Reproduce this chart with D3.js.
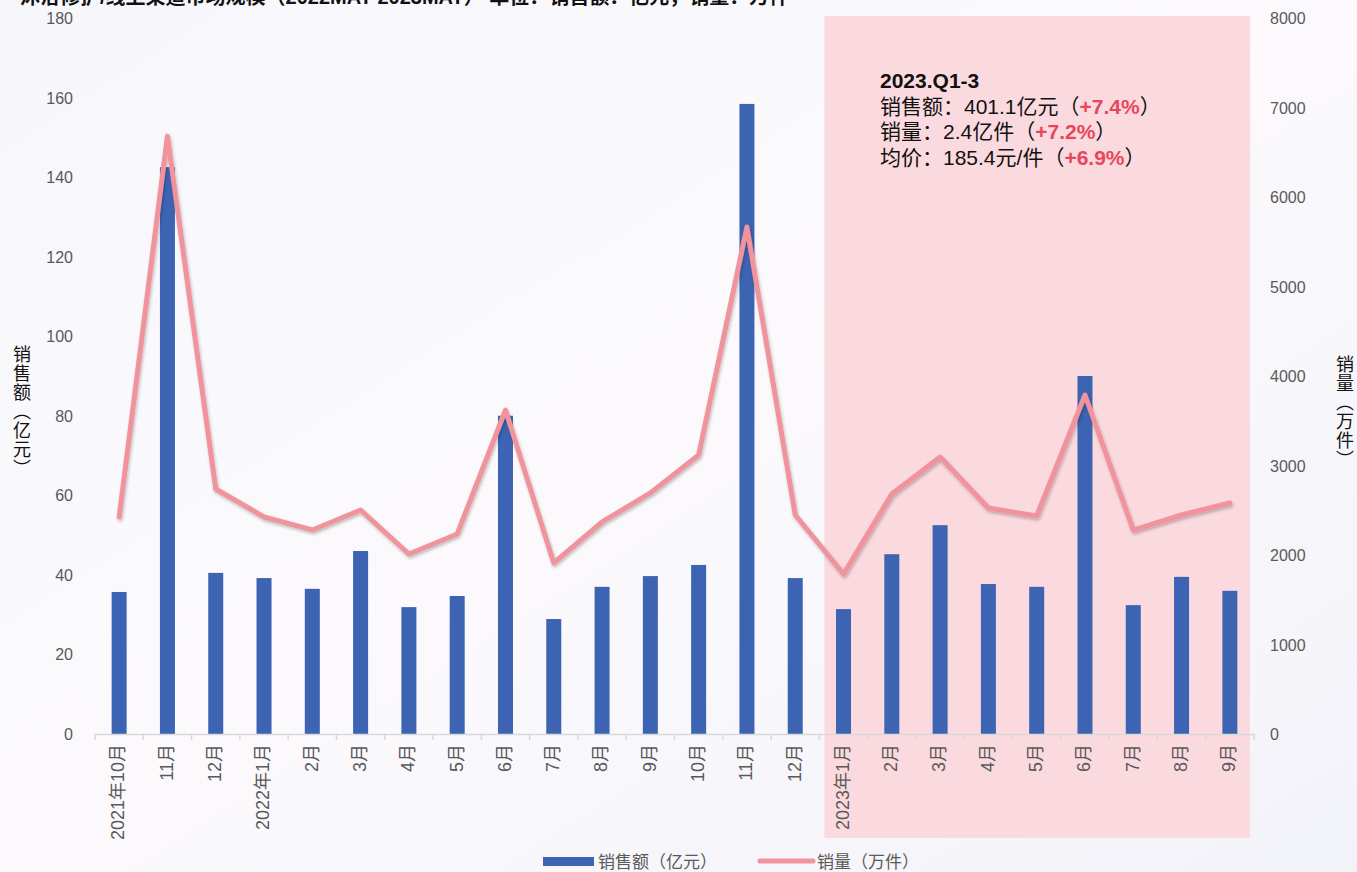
<!DOCTYPE html>
<html>
<head>
<meta charset="utf-8">
<script src="https://cdn.jsdelivr.net/npm/d3@7"></script>
<style>
  body { margin: 0; background: #f6f6fa; }
  svg { display: block; font-family: "Liberation Sans", Arial, "Noto Sans CJK SC", sans-serif; }
</style>
</head>
<body>
<script>
var months = ['2021年10月', '11月', '12月', '2022年1月', '2月', '3月', '4月', '5月', '6月', '7月', '8月', '9月',
    '10月', '11月', '12月', '2023年1月', '2月', '3月', '4月', '5月', '6月', '7月', '8月', '9月']
var sales = [35.7, 142.5, 40.5, 39.2, 36.5, 46, 31.9, 34.7, 80, 28.9, 37, 39.7,
    42.5, 158.4, 39.2, 31.4, 45.2, 52.5, 37.7, 37, 90, 32.4, 39.5, 36]
var volume = [2425, 6680, 2737, 2425, 2280, 2503, 2011, 2235, 3620, 1911, 2369, 2693,
    3117, 5665, 2447, 1788, 2682, 3095, 2525, 2436, 3788, 2279, 2447, 2581]
var leftTicks = [0, 20, 40, 60, 80, 100, 120, 140, 160, 180]
var rightTicks = [0, 1000, 2000, 3000, 4000, 5000, 6000, 7000, 8000]
var noteLines = [
    [['2023.Q1-3', true, false]],
    [['销售额：401.1亿元（', false, false], ['+7.4%', true, true], ['）', false, false]],
    [['销量：2.4亿件（', false, false], ['+7.2%', true, true], ['）', false, false]],
    [['均价：185.4元/件（', false, false], ['+6.9%', true, true], ['）', false, false]]
]

var width = 1357, height = 872
var plotLeft = 95, plotRight = 1254, plotTop = 18, plotBottom = 734

var svg = d3.select('body').append('svg')
    .attr('width', width)
    .attr('height', height)

var defs = svg.append('defs')
var bg = defs.append('linearGradient').attr('id', 'bg')
    .attr('x1', 0).attr('y1', 0).attr('x2', 1).attr('y2', 1)
bg.append('stop').attr('offset', 0).attr('stop-color', '#f7f7fb')
bg.append('stop').attr('offset', 0.5).attr('stop-color', '#fbf9fc')
bg.append('stop').attr('offset', 1).attr('stop-color', '#f2f3f9')
var shadow = defs.append('filter').attr('id', 'shadow')
    .attr('x', '-10%').attr('y', '-10%').attr('width', '120%').attr('height', '120%')
shadow.append('feDropShadow').attr('dx', 1).attr('dy', 2).attr('stdDeviation', 1.5)
    .attr('flood-color', '#000').attr('flood-opacity', 0.25)

svg.append('rect').attr('width', width).attr('height', height).attr('fill', 'url(#bg)')

var x = d3.scaleBand()
    .domain(d3.range(months.length))
    .range([plotLeft, plotRight])

var yL = d3.scaleLinear().domain([0, 180]).range([plotBottom, plotTop])
var yR = d3.scaleLinear().domain([0, 8000]).range([plotBottom, plotTop])

// highlighted 2023 block
svg.append('rect')
    .attr('x', x(15) + 5)
    .attr('y', 16)
    .attr('width', plotRight - 4 - (x(15) + 5))
    .attr('height', 838 - 16)
    .attr('fill', '#fadadf')

// title (cut off at top edge)
svg.append('text')
    .attr('x', 20)
    .attr('y', 4)
    .style('font-size', '20px')
    .style('font-weight', 'bold')
    .style('fill', '#111')
    .text('沐浴修护/线上渠道市场规模（2022MAT-2023MAT）  单位：销售额：亿元，销量：万件')

// left axis labels
svg.append('g').selectAll('text')
    .data(leftTicks)
    .enter().append('text')
    .attr('x', 73)
    .attr('y', function(d) { return yL(d) + 6 })
    .attr('text-anchor', 'end')
    .style('font-size', '16px')
    .style('fill', '#595959')
    .text(function(d) { return d })

// right axis labels
svg.append('g').selectAll('text')
    .data(rightTicks)
    .enter().append('text')
    .attr('x', 1270)
    .attr('y', function(d) { return yR(d) + 6 })
    .style('font-size', '16px')
    .style('fill', '#595959')
    .text(function(d) { return d })

// axis titles
svg.append('text')
    .attr('x', 22)
    .attr('y', 345)
    .style('writing-mode', 'vertical-rl')
    .style('font-size', '18px')
    .style('letter-spacing', '1px')
    .style('fill', '#111')
    .style('font-family', '"Noto Sans CJK SC", sans-serif')
    .text('销售额（亿元）')

svg.append('text')
    .attr('x', 1345)
    .attr('y', 355)
    .style('writing-mode', 'vertical-rl')
    .style('font-size', '18px')
    .style('letter-spacing', '1px')
    .style('fill', '#111')
    .style('font-family', '"Noto Sans CJK SC", sans-serif')
    .text('销量（万件）')

// bars
svg.append('g').selectAll('rect')
    .data(sales)
    .enter().append('rect')
    .attr('x', function(d, i) { return x(i) + x.bandwidth() / 2 - 7.5 })
    .attr('y', function(d) { return yL(d) })
    .attr('width', 15)
    .attr('height', function(d) { return plotBottom - yL(d) })
    .attr('fill', '#3d63b3')

// x axis
var xAxis = svg.append('g')
    .attr('transform', 'translate(0,' + plotBottom + ')')
    .call(d3.axisBottom(x).tickSize(0).tickFormat(function(i) { return months[i] }))
xAxis.select('.domain').attr('stroke', '#d9d9d9').attr('stroke-width', 1.5)
xAxis.selectAll('.tick line').remove()
xAxis.selectAll('.tick text')
    .attr('transform', 'rotate(-90)')
    .attr('x', -10)
    .attr('y', -1)
    .attr('dy', '0.35em')
    .attr('text-anchor', 'end')
    .style('font-size', '18px')
    .style('fill', '#595959')
    .style('font-family', '"Liberation Sans", "Noto Sans CJK SC", sans-serif')
xAxis.selectAll('.sep')
    .data(d3.range(months.length + 1))
    .enter().append('line')
    .attr('x1', function(i) { return plotLeft + i * x.step() })
    .attr('x2', function(i) { return plotLeft + i * x.step() })
    .attr('y1', 0)
    .attr('y2', 6)
    .attr('stroke', '#d9d9d9')
    .attr('stroke-width', 1.5)

// volume line
var line = d3.line()
    .x(function(d, i) { return x(i) + x.bandwidth() / 2 })
    .y(function(d) { return yR(d) })

svg.append('path')
    .datum(volume)
    .attr('d', line)
    .attr('fill', 'none')
    .attr('stroke', '#f0939c')
    .attr('stroke-width', 5)
    .attr('stroke-linejoin', 'round')
    .attr('stroke-linecap', 'round')
    .attr('filter', 'url(#shadow)')

// annotation
var note = svg.append('text')
    .style('font-size', '21px')
    .style('fill', '#111')
    .style('font-family', '"Liberation Sans", "Noto Sans CJK SC", sans-serif')
noteLines.forEach(function(parts, li) {
    parts.forEach(function(p, pi) {
        var ts = note.append('tspan').text(p[0])
        if (pi === 0) ts.attr('x', 880).attr('y', 88 + li * 25.5)
        if (p[1]) ts.style('font-weight', 'bold')
        if (p[2]) ts.style('fill', '#e8475b')
    })
})

// legend
var legend = svg.append('g').style('font-family', '"Noto Sans CJK SC", sans-serif')
legend.append('rect')
    .attr('x', 543).attr('y', 857).attr('width', 51).attr('height', 9)
    .attr('fill', '#3d63b3')
legend.append('text')
    .attr('x', 598).attr('y', 868)
    .style('font-size', '17px').style('fill', '#595959')
    .text('销售额（亿元）')
legend.append('line')
    .attr('x1', 760).attr('x2', 813).attr('y1', 861).attr('y2', 861)
    .attr('stroke', '#f0939c').attr('stroke-width', 5).attr('stroke-linecap', 'round')
legend.append('text')
    .attr('x', 817).attr('y', 868)
    .style('font-size', '17px').style('fill', '#595959')
    .text('销量（万件）')
</script>
</body>
</html>
